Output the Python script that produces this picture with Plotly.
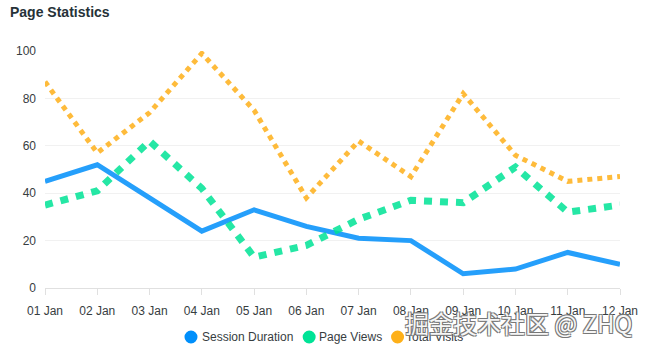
import plotly.graph_objects as go

# Daily site metrics
days = ["01 Jan", "02 Jan", "03 Jan", "04 Jan", "05 Jan", "06 Jan",
        "07 Jan", "08 Jan", "09 Jan", "10 Jan", "11 Jan", "12 Jan"]
session_duration = [45, 52, 38, 24, 33, 26, 21, 20, 6, 8, 15, 10]
page_views = [35, 41, 62, 42, 13, 18, 29, 37, 36, 51, 32, 35]
total_visits = [87, 57, 74, 99, 75, 38, 62, 47, 82, 56, 45, 47]

series_names = ["Session Duration", "Page Views", "Total Visits"]
series_values = [session_duration, page_views, total_visits]
colors = ["#008FFB", "#00E396", "#FEB019"]
widths = [5, 7, 5]
dashes = ["solid", "8px,8px", "5px,5px"]

W, H = 650, 350
ML, MR, MT, MB = 45, 26, 51, 62
PW, PH = W - ML - MR, H - MT - MB

FONT = "Helvetica, Arial, sans-serif"
TEXT = "#373d3f"


def px_x(px):
    """Pixel column -> paper x."""
    return (px - ML) / PW


def px_y(py):
    """Pixel row -> paper y."""
    return (H - MB - py) / PH


fig = go.Figure()

for name, vals, col, w, d in zip(series_names, series_values, colors, widths, dashes):
    fig.add_trace(go.Scatter(
        x=days, y=vals, mode="lines", name=name, showlegend=False,
        line=dict(color=col, width=w, dash=d), opacity=0.85,
    ))

# Bottom legend: round swatch followed by the series name
legend_swatch_px = [192, 311, 400]
legend_text_px = [201, 319, 407]
legend_row = 337
for name, col, sx, tx in zip(series_names, colors, legend_swatch_px, legend_text_px):
    fig.add_shape(
        type="circle", xref="paper", yref="paper",
        xsizemode="pixel", ysizemode="pixel",
        xanchor=px_x(sx), yanchor=px_y(legend_row),
        x0=-6.5, x1=6.5, y0=-6.5, y1=6.5,
        fillcolor=col, line=dict(width=0),
    )
    fig.add_annotation(
        text=name, xref="paper", yref="paper",
        x=px_x(tx), y=px_y(legend_row), xanchor="left", yanchor="middle",
        showarrow=False, font=dict(family=FONT, size=12, color=TEXT),
    )

fig.update_layout(
    width=W, height=H,
    margin=dict(l=ML, r=MR, t=MT, b=MB),
    paper_bgcolor="white", plot_bgcolor="white",
    font=dict(family=FONT, size=12, color=TEXT),
    title=dict(
        text="Page Statistics", x=10 / W, xanchor="left",
        y=1 - 12 / H, yanchor="middle", xref="container", yref="container",
        font=dict(family=FONT, size=14, color="#263238", weight="bold"),
    ),
    showlegend=False,
    xaxis=dict(
        type="category", range=[0, 11], showgrid=False,
        showline=True, linecolor="#e0e0e0", linewidth=1,
        ticks="outside", ticklen=6, tickcolor="#e0e0e0",
        ticklabelstandoff=6,
        tickfont=dict(size=12, color=TEXT), fixedrange=True,
    ),
    yaxis=dict(
        range=[0, 100], tickvals=[0, 20, 40, 60, 80, 100],
        showgrid=True, gridcolor="#f1f1f1", gridwidth=1,
        zeroline=False, showline=False, ticks="",
        ticklabelstandoff=8, tickfont=dict(size=12, color=TEXT),
    ),
)

fig.add_annotation(
    text="掘金技术社区 @ ZHQ", xref="paper", yref="paper",
    x=px_x(638), y=px_y(322), xanchor="right", yanchor="middle",
    showarrow=False,
    font=dict(family="Noto Sans CJK SC, sans-serif", size=24,
              color="rgba(255,255,255,0.95)",
              shadow="-1px -1px 0 #777, 1px -1px 0 #777, -1px 1px 0 #777, 1px 1px 0 #777"),
)

fig.write_html("out.html")
